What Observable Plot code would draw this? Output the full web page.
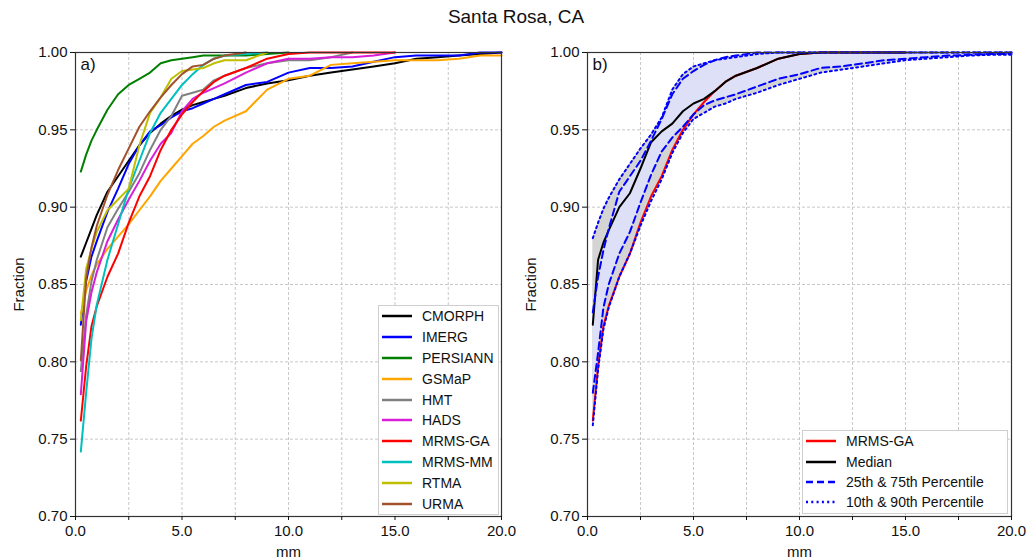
<!DOCTYPE html>
<html><head><meta charset="utf-8">
<script src="https://cdn.jsdelivr.net/npm/d3@7"></script>
<script src="https://cdn.jsdelivr.net/npm/@observablehq/plot@0.6"></script>
<style>
body{margin:0;background:#fff;width:1032px;height:560px;overflow:hidden;font-family:"Liberation Sans",Arial,sans-serif;position:relative;}
#title{position:absolute;left:0;top:6px;width:1032px;text-align:center;font-size:19px;color:#111;}
#a,#b{position:absolute;top:0}
#a{left:0}#b{left:516px}
.legend{position:absolute;background:#fff;border:1px solid #cfcfcf;box-sizing:border-box;font-size:14px;color:#111;}
.legend .row{display:flex;align-items:center;white-space:nowrap;}
.legend svg{margin-left:3px;margin-right:10px;flex:none}
</style></head><body>
<div id="title">Santa Rosa, CA</div>
<div id="a"></div><div id="b"></div>
<div id="legA" class="legend"></div>
<div id="legB" class="legend"></div>
<script>
// ---- data ----
const xs = [0.25, 0.5, 0.75, 1, 1.5, 2, 2.5, 3, 3.5, 4, 4.5, 5, 5.5, 6, 6.5, 7, 8, 9, 10, 11, 12, 13, 14, 15, 16, 17, 18, 19, 20];
const names = ["CMORPH", "IMERG", "PERSIANN", "GSMaP", "HMT", "HADS", "MRMS-GA", "MRMS-MM", "RTMA", "URMA"];
const colors = ["#000000", "#0000ff", "#008000", "#ffa500", "#808080", "#d81ed8", "#ff0000", "#00bfbf", "#bfbf00", "#a0522d"];
const cmorph  = [0.868, 0.877, 0.886, 0.895, 0.910, 0.920, 0.930, 0.940, 0.948, 0.954, 0.959, 0.963, 0.966, 0.968, 0.970, 0.972, 0.977, 0.980, 0.982, 0.985, 0.987, 0.989, 0.991, 0.993, 0.996, 0.997, 0.998, 0.999, 1.0];
const imerg   = [0.824, 0.852, 0.868, 0.878, 0.897, 0.912, 0.928, 0.940, 0.949, 0.953, 0.958, 0.962, 0.964, 0.967, 0.970, 0.973, 0.979, 0.981, 0.987, 0.990, 0.990, 0.991, 0.994, 0.997, 0.998, 0.998, 0.998, 1.0, 1.0];
const persiann= [0.923, 0.934, 0.943, 0.950, 0.963, 0.973, 0.979, 0.983, 0.987, 0.993, 0.995, 0.996, 0.997, 0.998, 0.998, 0.998, 0.998, 0.999, 1.0, null, null, null, null, null, null, null, null, null, null];
const gsmap   = [0.831, 0.846, 0.856, 0.863, 0.873, 0.881, 0.889, 0.898, 0.907, 0.917, 0.925, 0.933, 0.941, 0.946, 0.952, 0.956, 0.962, 0.976, 0.983, 0.985, 0.992, 0.993, 0.994, 0.995, 0.995, 0.995, 0.996, 0.998, 0.998];
const hmt     = [0.794, 0.830, 0.852, 0.866, 0.887, 0.899, 0.910, 0.922, 0.937, 0.950, 0.959, 0.972, 0.974, 0.976, 0.982, 0.985, 0.990, 0.993, 0.995, 0.995, 0.997, 1.0, null, null, null, null, null, null, null];
const hads    = [0.779, 0.826, 0.845, 0.858, 0.878, 0.892, 0.905, 0.917, 0.930, 0.941, 0.948, 0.962, 0.970, 0.974, 0.977, 0.980, 0.987, 0.993, 0.996, 0.996, 0.997, 0.997, 0.998, 1.0, null, null, null, null, null];
const mrmsga  = [0.762, 0.797, 0.823, 0.836, 0.855, 0.870, 0.890, 0.907, 0.920, 0.937, 0.950, 0.960, 0.968, 0.975, 0.981, 0.985, 0.990, 0.996, 0.999, 1.0, 1.0, 1.0, 1.0, 1.0, null, null, null, null, null];
const mrmsmm  = [0.742, 0.780, 0.815, 0.837, 0.866, 0.889, 0.912, 0.930, 0.948, 0.961, 0.970, 0.979, 0.986, 0.992, 0.996, 0.998, 0.999, 1.0, null, null, null, null, null, null, null, null, null, null, null];
const rtma    = [0.827, 0.860, 0.873, 0.884, 0.898, 0.905, 0.912, 0.940, 0.961, 0.971, 0.983, 0.988, 0.989, 0.990, 0.993, 0.995, 0.995, 1.0, null, null, null, null, null, null, null, null, null, null, null];
const urma    = [0.801, 0.854, 0.874, 0.888, 0.908, 0.924, 0.938, 0.952, 0.962, 0.971, 0.979, 0.986, 0.991, 0.992, 0.996, 0.998, 1.0, null, null, null, null, null, null, null, null, null, null, null, null];
const seriesA = [cmorph, imerg, persiann, gsmap, hmt, hads, mrmsga, mrmsmm, rtma, urma];

const median = [0.824, 0.866, 0.877, 0.885, 0.900, 0.909, 0.925, 0.942, 0.949, 0.954, 0.962, 0.967, 0.970, 0.975, 0.981, 0.985, 0.990, 0.996, 0.999, 1.0, 1.0, 1.0, 1.0, 1.0, null, null, null, null, null];
const p25 = [0.780, 0.806, 0.835, 0.850, 0.870, 0.884, 0.903, 0.921, 0.936, 0.945, 0.952, 0.960, 0.966, 0.969, 0.971, 0.973, 0.978, 0.983, 0.986, 0.990, 0.991, 0.993, 0.995, 0.996, 0.997, 0.998, 0.9985, 0.999, 0.999];
const p75 = [0.832, 0.855, 0.872, 0.886, 0.910, 0.920, 0.930, 0.943, 0.957, 0.973, 0.983, 0.988, 0.992, 0.995, 0.997, 0.998, 1.0, 1.0, 1.0, 1.0, 1.0, 1.0, 1.0, 1.0, 1.0, 1.0, 1.0, 1.0, 1.0];
const p10 = [0.759, 0.795, 0.821, 0.835, 0.855, 0.870, 0.888, 0.904, 0.918, 0.935, 0.948, 0.957, 0.961, 0.965, 0.967, 0.970, 0.974, 0.979, 0.983, 0.987, 0.989, 0.991, 0.993, 0.995, 0.996, 0.997, 0.998, 0.9985, 0.9985];
const p90 = [0.880, 0.890, 0.899, 0.906, 0.918, 0.928, 0.938, 0.947, 0.958, 0.976, 0.986, 0.991, 0.993, 0.995, 0.996, 0.997, 0.999, 1.0, 1.0, 1.0, 1.0, 1.0, 1.0, 1.0, 1.0, 1.0, 1.0, 1.0, 1.0];

const xTicks = [0, 2.5, 5, 7.5, 10, 12.5, 15, 17.5, 20];
const yTicks = [0.70, 0.75, 0.80, 0.85, 0.90, 0.95, 1.00];
const legendB = [
  {name: "MRMS-GA", color: "#ff0000", dash: null},
  {name: "Median", color: "#000000", dash: null},
  {name: "25th & 75th Percentile", color: "#0000ff", dash: "7,4"},
  {name: "10th & 90th Percentile", color: "#0000ff", dash: "2,3.3"}
];

// ---- build tables ----
const rowsA = [];
seriesA.forEach((s, k) => s.forEach((v, i) => { if (v != null) rowsA.push({x: xs[i], y: v, name: names[k]}); }));
const band = xs.map((x, i) => ({x, p10: p10[i], p25: p25[i], p75: p75[i], p90: p90[i]}));
const lineRows = arr => xs.map((x, i) => ({x, y: arr[i]})).filter(d => d.y != null);

const font = "Liberation Sans, Arial, sans-serif";
function base(marginLeft, marginRight) {
  return {
    width: 516, height: 560,
    marginLeft, marginRight, marginTop: 52, marginBottom: 44,
    style: {fontFamily: font, fontSize: "15px", color: "#111", background: "transparent", overflow: "visible"},
    x: {domain: [0, 20]},
    y: {domain: [0.70, 1.00]}
  };
}
function axes(tag) {
  return [
    Plot.frame({stroke: "#333", strokeWidth: 1.2}),
    Plot.axisX(xTicks, {tickFormat: d => d % 5 === 0 ? d.toFixed(1) : "", tickSize: 4, tickPadding: 5,
      label: "mm", labelAnchor: "center", labelArrow: "none", labelOffset: 40, fontSize: 15}),
    Plot.axisY(yTicks, {tickFormat: d => d.toFixed(2), tickSize: 5, tickPadding: 3,
      label: "Fraction", labelAnchor: "center", labelArrow: "none", labelOffset: 62, fontSize: 15}),
    Plot.text([tag], {frameAnchor: "top-left", dx: 5, dy: 5, lineAnchor: "top", textAnchor: "start", fontSize: 17, fill: "#111"})
  ];
}
const grid = [
  Plot.gridX(xTicks, {stroke: "#c8c8c8", strokeOpacity: 1, strokeDasharray: "3,2"}),
  Plot.gridY(yTicks, {stroke: "#c8c8c8", strokeOpacity: 1, strokeDasharray: "3,2"})
];

const plotA = Plot.plot({
  ...base(75, 15),
  color: {domain: names, range: colors},
  marks: [
    ...grid,
    Plot.line(rowsA, {x: "x", y: "y", z: "name", stroke: "name", strokeWidth: 2}),
    ...axes("a)")
  ]
});
document.getElementById("a").appendChild(plotA);

const plotB = Plot.plot({
  ...base(71, 21),
  marks: [
    ...grid,
    Plot.areaY(band, {x: "x", y1: "p10", y2: "p90", fill: "#cdcdcd", fillOpacity: 0.85}),
    Plot.areaY(band, {x: "x", y1: "p25", y2: "p75", fill: "#dde0f6", fillOpacity: 1}),
    Plot.line(lineRows(mrmsga), {x: "x", y: "y", stroke: "#ff0000", strokeWidth: 2}),
    Plot.line(lineRows(median), {x: "x", y: "y", stroke: "#000", strokeWidth: 2}),
    Plot.line(band, {x: "x", y: "p25", stroke: "#0000ff", strokeWidth: 2, strokeDasharray: "7,4"}),
    Plot.line(band, {x: "x", y: "p75", stroke: "#0000ff", strokeWidth: 2, strokeDasharray: "7,4"}),
    Plot.line(band, {x: "x", y: "p10", stroke: "#0000ff", strokeWidth: 2, strokeDasharray: "2,3.3"}),
    Plot.line(band, {x: "x", y: "p90", stroke: "#0000ff", strokeWidth: 2, strokeDasharray: "2,3.3"}),
    ...axes("b)")
  ]
});
document.getElementById("b").appendChild(plotB);

// ---- legends ----
function buildLegend(el, items, left, top, width, rowH) {
  el.style.left = left + "px"; el.style.top = top + "px"; el.style.width = width + "px";
  el.style.height = (items.length * rowH + 2) + "px";
  items.forEach(it => {
    const row = document.createElement("div");
    row.className = "row"; row.style.height = rowH + "px";
    row.innerHTML = `<svg width="30" height="6"><line x1="0" y1="3" x2="30" y2="3" stroke="${it.color}" stroke-width="2.5" ${it.dash ? `stroke-dasharray="${it.dash}"` : ""}/></svg><span>${it.name}</span>`;
    el.appendChild(row);
  });
}
buildLegend(document.getElementById("legA"), names.map((n, i) => ({name: n, color: colors[i], dash: null})), 378, 305, 121, 20.8);
buildLegend(document.getElementById("legB"), legendB, 802, 430, 206, 20.4);
</script>
</body></html>
